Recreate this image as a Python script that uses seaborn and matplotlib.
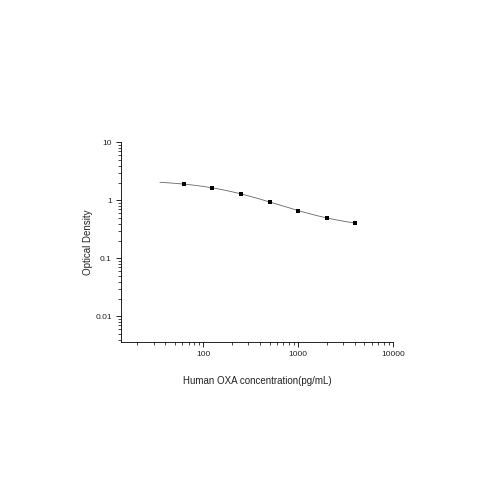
import numpy as np
import pandas as pd
import matplotlib
matplotlib.use("Agg")
import matplotlib.pyplot as plt
import seaborn as sns
from matplotlib.ticker import LogLocator, FixedLocator, FixedFormatter, NullFormatter

# Data
concentration = [62.5, 125, 250, 500, 1000, 2000, 4000]
optical_density = [1.92, 1.64, 1.31, 0.94, 0.67, 0.50, 0.41]
x_ticks = [100, 1000, 10000]
x_tick_labels = ["100", "1000", "10000"]
y_ticks = [0.01, 0.1, 1, 10]
y_tick_labels = ["0.01", "0.1", "1", "10"]

sns.set_style("white")
plt.rcParams['font.family'] = ['Liberation Sans', 'DejaVu Sans']

fig = plt.figure(figsize=(5, 5), dpi=100)
ax = fig.add_axes([0.242, 0.317, 0.544, 0.398])

# Four-parameter logistic fit of the standard points (Levenberg-Marquardt)
xd = np.array(concentration, dtype=float)
yd = np.array(optical_density, dtype=float)


def four_pl(p, x):
    a, b, c, d = p
    return d + (a - d) / (1.0 + (x / c) ** b)


p = np.array([2.2, 1.0, 500.0, 0.3])
lam = 1e-3
for _ in range(500):
    r = yd - four_pl(p, xd)
    J = np.zeros((len(xd), 4))
    for k in range(4):
        dp = np.zeros(4)
        dp[k] = 1e-6 * max(abs(p[k]), 1.0)
        J[:, k] = (four_pl(p + dp, xd) - four_pl(p - dp, xd)) / (2 * dp[k])
    A = J.T @ J
    g = J.T @ r
    step = np.linalg.solve(A + lam * np.diag(np.diag(A)), g)
    pn = p + step
    if pn[2] > 0 and np.sum((yd - four_pl(pn, xd)) ** 2) < np.sum(r ** 2):
        p = pn
        lam *= 0.5
    else:
        lam *= 4.0

xf = np.logspace(np.log10(35), np.log10(4000), 200)
yf = four_pl(p, xf)
fit_df = pd.DataFrame({"x": xf, "y": yf})
sns.lineplot(data=fit_df, x="x", y="y", ax=ax, color="#666666", linewidth=0.6)

df = pd.DataFrame({"x": concentration, "y": optical_density})
sns.scatterplot(data=df, x="x", y="y", ax=ax, marker="s", color="black",
                s=12, edgecolor="black", linewidth=0, zorder=3)

ax.set_xscale("log")
ax.set_yscale("log")
ax.set_xlim(13.6, 10000)
ax.set_ylim(0.0037, 10)

ax.xaxis.set_major_locator(FixedLocator(x_ticks))
ax.xaxis.set_major_formatter(FixedFormatter(x_tick_labels))
ax.xaxis.set_minor_locator(LogLocator(base=10, subs=np.arange(2, 10), numticks=20))
ax.xaxis.set_minor_formatter(NullFormatter())
ax.yaxis.set_major_locator(FixedLocator(y_ticks))
ax.yaxis.set_major_formatter(FixedFormatter(y_tick_labels))
ax.yaxis.set_minor_locator(LogLocator(base=10, subs=np.arange(2, 10), numticks=20))
ax.yaxis.set_minor_formatter(NullFormatter())

for s in ["top", "right"]:
    ax.spines[s].set_visible(False)
for s in ["left", "bottom"]:
    ax.spines[s].set_color("black")
    ax.spines[s].set_linewidth(0.6)

ax.tick_params(which="major", direction="out", length=3.5, width=0.6,
               labelsize=6, colors="black", labelcolor="#222222", pad=3,
               left=True, bottom=True)
ax.tick_params(which="minor", direction="out", length=2, width=0.5,
               colors="black", left=True, bottom=True)

ax.set_xlabel("Human OXA concentration(pg/mL)", fontsize=7, labelpad=13, color="#222222")
ax.set_ylabel("Optical Density", fontsize=7, labelpad=2, color="#222222")

fig.savefig("out.png", dpi=100, facecolor="white")
